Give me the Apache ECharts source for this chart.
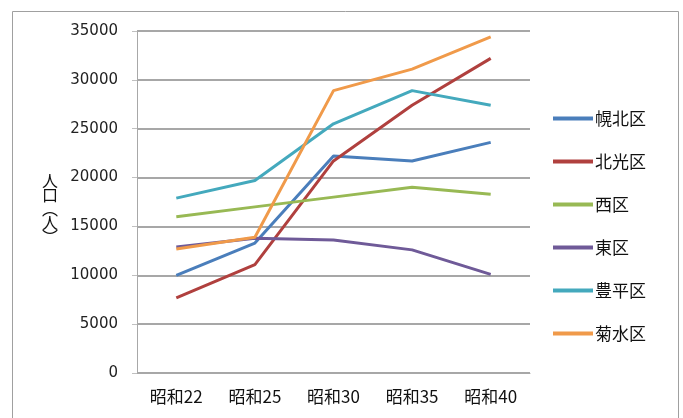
<!DOCTYPE html>
<html>
<head>
<meta charset="utf-8">
<script src="https://cdn.jsdelivr.net/npm/echarts@6/dist/echarts.min.js"></script>
<style>html,body{margin:0;padding:0;background:#fff;}#c{width:683px;height:418px;}</style>
</head>
<body>
<div id="c"></div>
<script>
const categories = ['昭和22', '昭和25', '昭和30', '昭和35', '昭和40'];
const seriesNames = ['幌北区', '北光区', '西区', '東区', '豊平区', '菊水区'];
const horoKita = [10000, 13300, 22200, 21700, 23600];
const hokko = [7700, 11100, 21700, 27400, 32200];
const nishi = [16000, 17000, 18000, 19000, 18300];
const higashi = [12900, 13800, 13600, 12600, 10100];
const toyohira = [17900, 19700, 25500, 28900, 27400];
const kikusui = [12700, 13900, 28900, 31100, 34400];
const yTicks = [0, 5000, 10000, 15000, 20000, 25000, 30000, 35000];
const colors = ['#4a7ebb', '#b0403e', '#98b954', '#6f5a98', '#44a9bd', '#f09a4a'];
const allData = [horoKita, hokko, nishi, higashi, toyohira, kikusui];

const chart = echarts.init(document.getElementById('c'));
chart.setOption({
  animation: false,
  backgroundColor: '#fff',
  color: colors,
  grid: { left: 137, top: 31, right: 153, bottom: 45, containLabel: false },
  xAxis: {
    type: 'category',
    data: categories,
    boundaryGap: true,
    axisLine: { lineStyle: { color: '#a8a8a8', width: 1 } },
    axisTick: { show: false },
    axisLabel: { margin: 15, fontSize: 17, color: '#111', fontFamily: 'Noto Sans CJK JP' }
  },
  yAxis: {
    type: 'value',
    min: yTicks[0],
    max: yTicks[yTicks.length - 1],
    interval: 5000,
    axisLine: { show: true, lineStyle: { color: '#a8a8a8', width: 1 } },
    axisTick: { show: true, length: 5, lineStyle: { color: '#c0c0c0' } },
    axisLabel: { margin: 19, fontSize: 15, color: '#222', fontFamily: 'DejaVu Sans', formatter: v => String(v) },
    splitLine: { lineStyle: { color: '#8a8a8a', width: 1.5 } }
  },
  legend: {
    orient: 'vertical',
    left: 548,
    top: 105,
    itemWidth: 40,
    itemHeight: 4,
    itemGap: 26,
    icon: 'rect',
    data: seriesNames,
    textStyle: { fontSize: 17, color: '#111', fontFamily: 'Noto Sans CJK JP', padding: [0, 0, 0, -3] }
  },
  graphic: [
    { type: 'rect', shape: { x: 12.5, y: 11.5, width: 666, height: 420 }, style: { fill: 'none', stroke: '#a0a0a0', lineWidth: 1 }, silent: true, z: -1 },
    { type: 'text', left: 42, top: 173, style: { text: '人\n口\n︵\n人\n︶', fontSize: 16, lineHeight: 14, fill: '#111', fontFamily: 'Noto Sans CJK JP', align: 'center' } }
  ],
  series: seriesNames.map((n, i) => ({
    name: n,
    type: 'line',
    data: allData[i],
    symbol: 'none',
    smooth: false,
    lineStyle: { width: 3, color: colors[i] },
    itemStyle: { color: colors[i] }
  }))
});
</script>
</body>
</html>
